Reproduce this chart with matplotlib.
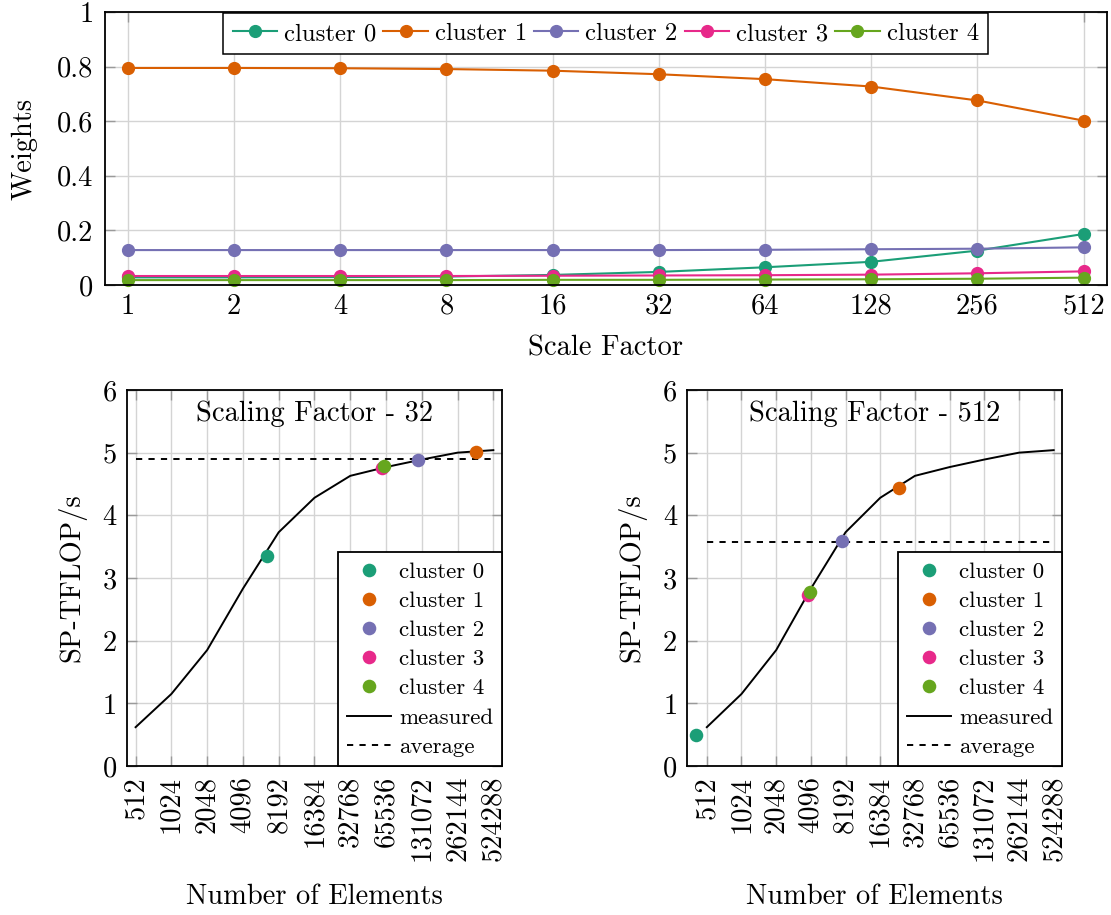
import matplotlib
matplotlib.use("Agg")
import matplotlib.pyplot as plt
from matplotlib.lines import Line2D
from matplotlib.ticker import NullLocator

plt.rcParams.update({
    "font.family": "serif",
    "font.serif": ["cmr10"],
    "mathtext.fontset": "cm",
    "axes.formatter.use_mathtext": True,
    "font.size": 20.5,
    "axes.linewidth": 1.3,
})

# ---- data -------------------------------------------------------------
scale_factors = [1, 2, 4, 8, 16, 32, 64, 128, 256, 512]
cluster_names = ["cluster 0", "cluster 1", "cluster 2", "cluster 3", "cluster 4"]
cluster_colors = ["#1b9e77", "#d95f02", "#7570b3", "#e7298a", "#66a61e"]

weights_c0 = [0.028, 0.028, 0.029, 0.031, 0.037, 0.048, 0.065, 0.085, 0.126, 0.187]
weights_c1 = [0.795, 0.795, 0.794, 0.791, 0.785, 0.772, 0.754, 0.727, 0.676, 0.602]
weights_c2 = [0.128, 0.128, 0.128, 0.128, 0.128, 0.128, 0.129, 0.131, 0.133, 0.138]
weights_c3 = [0.033, 0.033, 0.033, 0.033, 0.034, 0.035, 0.036, 0.038, 0.043, 0.050]
weights_c4 = [0.018, 0.018, 0.018, 0.018, 0.019, 0.019, 0.020, 0.021, 0.023, 0.027]

elements = [512, 1024, 2048, 4096, 8192, 16384, 32768, 65536, 131072, 262144, 524288]
measured_tflops = [0.62, 1.15, 1.85, 2.83, 3.73, 4.28, 4.63, 4.77, 4.89, 5.00, 5.04]

# cluster operating points for scale factor 32
sf32_elements = [6500, 376000, 121000, 61000, 63500]
sf32_tflops = [3.35, 5.01, 4.89, 4.76, 4.78]
sf32_average = 4.90

# cluster operating points for scale factor 512
sf512_elements = [413, 23800, 7640, 3875, 4040]
sf512_tflops = [0.50, 4.44, 3.59, 2.73, 2.77]
sf512_average = 3.57

GRID = "#d4d4d4"
TICK = "#9a9a9a"
DASH = (0, (3.2, 3.2))


def style_axes(ax):
    ax.grid(True, color=GRID, linewidth=1.0)
    ax.set_axisbelow(True)
    ax.tick_params(which="major", direction="in", length=7, width=1.0,
                   color=TICK, top=True, right=True)
    ax.tick_params(which="minor", length=0)
    for sp in ax.spines.values():
        sp.set_color("black")
        sp.set_linewidth(1.3)


fig = plt.figure(figsize=(11.11, 9.15), dpi=100)

# ---- top: cluster weights vs scale factor ------------------------------
ax_top = fig.add_axes([0.0941, 0.6885, 0.9023, 0.2984])
weights = [weights_c0, weights_c1, weights_c2, weights_c3, weights_c4]
for name, col, w in zip(cluster_names, cluster_colors, weights):
    ax_top.plot(scale_factors, w, color=col, marker="o", markersize=8.5,
                linewidth=1.5, label=name, clip_on=False)
ax_top.set_xscale("log", base=2)
ax_top.set_xlim(2 ** -0.22, 2 ** 9.22)
ax_top.set_ylim(0, 1)
ax_top.set_xticks(scale_factors)
ax_top.set_xticklabels([str(s) for s in scale_factors])
ax_top.xaxis.set_minor_locator(NullLocator())
ax_top.set_yticks([0, 0.2, 0.4, 0.6, 0.8, 1.0])
ax_top.set_yticklabels(["0", "0.2", "0.4", "0.6", "0.8", "1"])
style_axes(ax_top)
ax_top.tick_params(axis="x", pad=6)
ax_top.tick_params(axis="y", pad=8)
ax_top.set_xlabel("Scale Factor", labelpad=11)
ax_top.set_ylabel("Weights", labelpad=14)
leg = ax_top.legend(loc="upper center", bbox_to_anchor=(0.5, 0.995), ncol=5,
                    fancybox=False, edgecolor="black", framealpha=1,
                    borderaxespad=0.0, handlelength=1.8, handletextpad=0.28,
                    columnspacing=0.28, borderpad=0.38, fontsize=17.8)
leg.get_frame().set_linewidth(1.1)


# ---- bottom: throughput vs number of elements -------------------------
def throughput_panel(ax, title, pts_x, pts_y, avg, xmin):
    ax.plot(elements, measured_tflops, color="black", linewidth=1.4,
            zorder=3)
    ax.plot([elements[0], elements[-1]], [avg, avg], color="black",
            linewidth=1.4, linestyle=DASH, zorder=3)
    for col, x, y in zip(cluster_colors, pts_x, pts_y):
        ax.scatter([x], [y], s=95, color=col, zorder=4, linewidths=0)
    ax.set_xscale("log", base=2)
    ax.set_xlim(xmin, 2 ** 19.25)
    ax.set_ylim(0, 6)
    ax.set_xticks(elements)
    ax.set_xticklabels([str(e) for e in elements], rotation=90)
    ax.xaxis.set_minor_locator(NullLocator())
    ax.set_yticks(range(7))
    ax.set_yticklabels([str(v) for v in range(7)])
    style_axes(ax)
    ax.tick_params(axis="x", pad=7)
    ax.tick_params(axis="y", pad=7)
    ax.set_xlabel("Number of Elements", labelpad=16)
    ax.set_ylabel("SP-TFLOP/s", labelpad=12)
    ax.text(0.5, 0.937, title, transform=ax.transAxes, ha="center",
            va="center", fontsize=20.5)

    handles = [Line2D([], [], linestyle="none", marker="o", markersize=9.8,
                      markerfacecolor=c, markeredgewidth=0)
               for c in cluster_colors]
    handles += [Line2D([], [], color="black", linewidth=1.4),
                Line2D([], [], color="black", linewidth=1.4, linestyle=DASH)]
    labels = cluster_names + ["measured", "average"]
    lg = ax.legend(handles, labels, loc="lower right", fancybox=False,
                   edgecolor="black", framealpha=1, borderaxespad=0.0,
                   handlelength=1.92, handletextpad=0.35, labelspacing=0.4,
                   borderpad=0.4, fontsize=16.5)
    lg.get_frame().set_linewidth(1.3)


ax_l = fig.add_axes([0.1140, 0.1628, 0.3381, 0.4110])
throughput_panel(ax_l, "Scaling Factor - 32", sf32_elements, sf32_tflops,
                 sf32_average, 2 ** 8.75)

ax_r = fig.add_axes([0.6184, 0.1628, 0.3378, 0.4110])
throughput_panel(ax_r, "Scaling Factor - 512", sf512_elements, sf512_tflops,
                 sf512_average, 2 ** 8.43)

fig.savefig("out.png", dpi=100)
